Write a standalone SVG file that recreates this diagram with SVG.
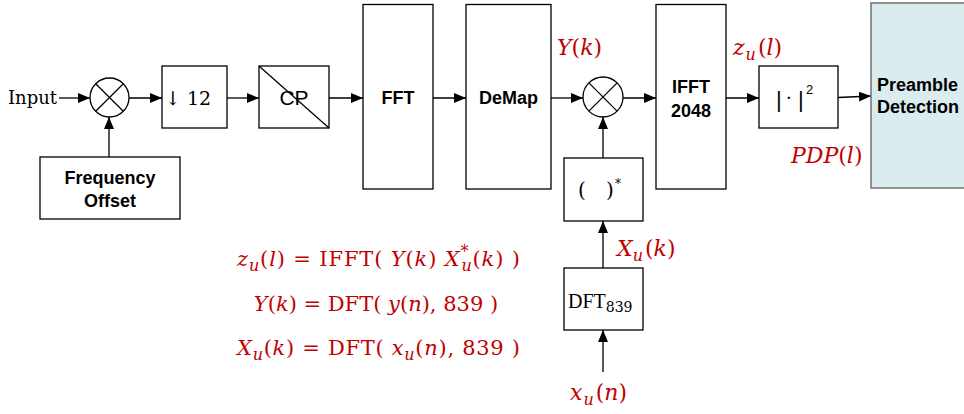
<svg xmlns="http://www.w3.org/2000/svg" width="964" height="414" viewBox="0 0 964 414">
  <style>
    .box { fill: #ffffff; stroke: #000000; stroke-width: 1.3; }
    .wire { fill: none; stroke: #000000; stroke-width: 1.3; }
    .lbl { font-family: "Liberation Sans", Arial, sans-serif; font-weight: bold; font-size: 18px; fill: #000000; }
    .ser { font-family: "DejaVu Serif", "Liberation Serif", serif; fill: #000000; }
    .math { font-family: "DejaVu Serif", "Liberation Serif", serif; font-size: 22px; fill: #c00000; }
    .eq { font-size: 21px; }
    .it { font-style: italic; }
    .sub { font-style: italic; font-size: 16px; }
  </style>
  <defs>
    <marker id="arrow" viewBox="0 0 12 10" refX="12" refY="5" markerWidth="12" markerHeight="10" markerUnits="userSpaceOnUse" orient="auto">
      <path d="M0,0 L12,5 L0,10 Z" fill="#000000"/>
    </marker>
  </defs>

  <!-- connectors -->
  <g id="connectors" class="wire" marker-end="url(#arrow)">
    <line x1="59" y1="98" x2="90" y2="98"/>
    <line x1="109" y1="157" x2="109" y2="117"/>
    <line x1="129" y1="98" x2="162" y2="98"/>
    <line x1="227" y1="98" x2="259" y2="98"/>
    <line x1="329" y1="98" x2="363" y2="98"/>
    <line x1="433" y1="98" x2="466" y2="98"/>
    <line x1="551" y1="98" x2="583" y2="98"/>
    <line x1="603" y1="158" x2="603" y2="117"/>
    <line x1="623" y1="98" x2="656" y2="98"/>
    <line x1="726" y1="98" x2="759" y2="98"/>
    <line x1="838" y1="97.5" x2="871" y2="96"/>
    <line x1="603" y1="268" x2="603" y2="221"/>
    <line x1="603" y1="372" x2="603" y2="330"/>
  </g>

  <text class="ser" x="8" y="104" font-size="18">Input</text>

  <!-- mixer with frequency offset -->
  <g id="mixer1">
    <circle cx="109.5" cy="97.5" r="19.5" class="box"/>
    <path class="wire" d="M95.7,83.7 L123.3,111.3 M123.3,83.7 L95.7,111.3"/>
  </g>
  <g id="freq-offset">
    <rect x="40" y="157" width="140" height="62" class="box"/>
    <text class="lbl" x="110" y="184" text-anchor="middle">Frequency</text>
    <text class="lbl" x="110" y="207" text-anchor="middle">Offset</text>
  </g>

  <g id="decimate">
    <rect x="162" y="66" width="65" height="62" class="box"/>
    <text class="ser" x="188" y="105" font-size="19" text-anchor="middle">↓ 12</text>
  </g>

  <g id="cp-removal">
    <rect x="259" y="66" width="70" height="62" class="box"/>
    <text x="294" y="105" font-family="Liberation Sans, Arial, sans-serif" font-size="21" text-anchor="middle">CP</text>
    <line x1="259" y1="66" x2="329" y2="128" class="wire"/>
  </g>

  <g id="fft">
    <rect x="363" y="4.5" width="70" height="184.5" class="box"/>
    <text class="lbl" x="398" y="104" text-anchor="middle">FFT</text>
  </g>

  <g id="demap">
    <rect x="466" y="4.5" width="85" height="184.5" class="box"/>
    <text class="lbl" x="508.5" y="104" text-anchor="middle">DeMap</text>
  </g>

  <g id="mixer2">
    <circle cx="603" cy="97" r="20" class="box"/>
    <path class="wire" d="M588.9,82.9 L617.1,111.1 M617.1,82.9 L588.9,111.1"/>
  </g>

  <g id="conj" class="ser">
    <rect x="564" y="158" width="79" height="63" class="box"/>
    <text x="578" y="197" font-size="20">(</text>
    <text x="606" y="197" font-size="20">)</text>
    <text x="615" y="188" font-size="12">*</text>
  </g>

  <g id="dft839" class="ser">
    <rect x="564" y="268" width="79" height="62" class="box"/>
    <text x="568" y="308" font-family="Liberation Serif, serif" font-size="20">DFT<tspan dy="4" font-family="DejaVu Serif, serif" font-size="14">839</tspan></text>
  </g>

  <g id="ifft">
    <rect x="656" y="4.5" width="70" height="184.5" class="box"/>
    <text class="lbl" x="691" y="93" text-anchor="middle">IFFT</text>
    <text class="lbl" x="691" y="117" text-anchor="middle">2048</text>
  </g>

  <g id="magsq" class="ser">
    <rect x="759" y="66" width="79" height="62" class="box"/>
    <text x="776" y="107" font-family="Liberation Sans, Arial, sans-serif" font-size="22">|</text>
    <text x="786" y="104" font-size="18">·</text>
    <text x="798" y="107" font-family="Liberation Sans, Arial, sans-serif" font-size="22">|</text>
    <text x="806" y="94" font-family="Liberation Sans, Arial, sans-serif" font-size="13">2</text>
  </g>

  <g id="preamble">
    <rect x="871" y="3" width="100" height="185" fill="#daecee" stroke="#707070" stroke-width="1.5"/>
    <text class="lbl" x="877" y="91" font-size="19">Preamble</text>
    <text class="lbl" x="877" y="113" font-size="19">Detection</text>
  </g>

  <!-- signal labels -->
  <g id="signal-labels" class="math">
    <text x="557" y="55"><tspan class="it">Y</tspan>(<tspan class="it">k</tspan>)</text>
    <text x="733" y="55"><tspan class="it">z</tspan><tspan class="sub" dx="1" dy="5">u</tspan><tspan dx="2" dy="-5">(</tspan><tspan class="it">l</tspan>)</text>
    <text x="791" y="163"><tspan class="it">PDP</tspan>(<tspan class="it">l</tspan>)</text>
    <text x="617" y="256"><tspan class="it">X</tspan><tspan class="sub" dy="5">u</tspan><tspan dx="2" dy="-5">(</tspan><tspan class="it">k</tspan>)</text>
    <text x="570" y="400"><tspan class="it">x</tspan><tspan class="sub" dx="1" dy="5">u</tspan><tspan dx="2" dy="-5">(</tspan><tspan class="it">n</tspan>)</text>
  </g>

  <!-- equations -->
  <g id="equations" class="math eq">
    <text x="237" y="266" textLength="283" lengthAdjust="spacing"><tspan class="it">z</tspan><tspan class="sub" dy="5">u</tspan><tspan dy="-5">(</tspan><tspan class="it">l</tspan>) = IFFT( <tspan class="it">Y</tspan>(<tspan class="it">k</tspan>) <tspan class="it">X</tspan><tspan class="sub" dy="-9">*</tspan><tspan class="sub" dx="-8" dy="14">u</tspan><tspan dy="-5">(</tspan><tspan class="it">k</tspan>) )</text>
    <text x="376" y="311" text-anchor="middle"><tspan class="it">Y</tspan>(<tspan class="it">k</tspan>) = DFT( <tspan class="it">y</tspan>(<tspan class="it">n</tspan>), 839 )</text>
    <text x="237" y="355" textLength="283" lengthAdjust="spacing"><tspan class="it">X</tspan><tspan class="sub" dy="5">u</tspan><tspan dy="-5">(</tspan><tspan class="it">k</tspan>) = DFT( <tspan class="it">x</tspan><tspan class="sub" dy="5">u</tspan><tspan dy="-5">(</tspan><tspan class="it">n</tspan>), 839 )</text>
  </g>
</svg>
